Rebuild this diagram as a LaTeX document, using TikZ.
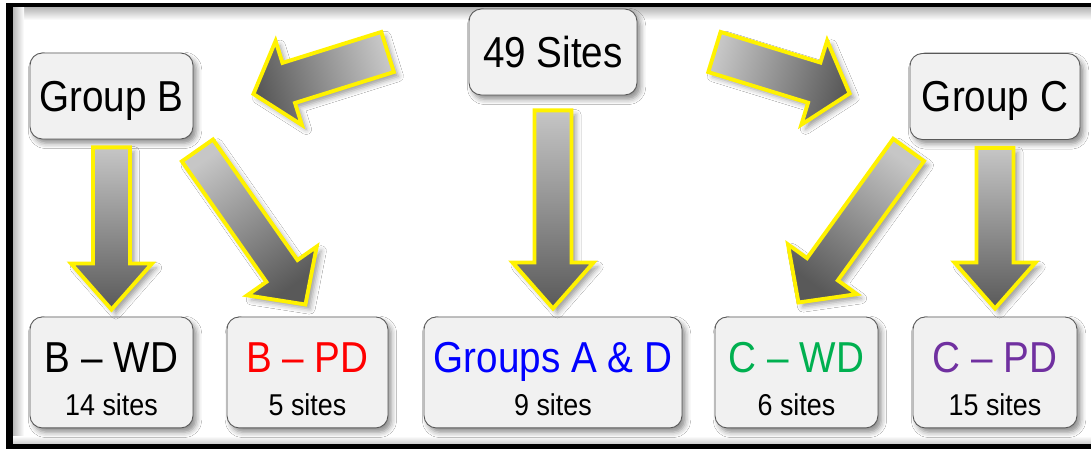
\documentclass[tikz,border=0pt]{standalone}
\usepackage{fontspec}
\setmainfont{Liberation Sans}
\usepackage{graphicx}
\usetikzlibrary{positioning,calc,shadows.blur}

\definecolor{pdred}{RGB}{255,0,0}
\definecolor{adblue}{RGB}{0,0,255}
\definecolor{wdgreen}{RGB}{0,176,80}
\definecolor{pdpurple}{RGB}{112,48,160}
\definecolor{boxgray}{RGB}{241,241,241}

% text is a bit taller than wide in the picture
\newcommand{\tall}[1]{\scalebox{1}[1.12]{#1}}
\newcommand{\ttl}[1]{\rule{0pt}{24pt}\tall{#1}}
\newcommand{\sub}[1]{{\fontsize{15.3}{18}\selectfont\tall{#1}}}
% tail, tip, half shaft, half head, head length, shading angle
\newcommand{\bigarrow}[6]{%
	\coordinate (hb) at ($(#2)!#5!(#1)$);
	\draw [bigarrow, shading angle=#6] ($(#1)!#3!90:(#2)$) -- ($(hb)!#3!90:(#2)$) -- ($(hb)!#4!90:(#2)$) -- (#2) -- ($(hb)!#4!-90:(#2)$) -- ($(hb)!#3!-90:(#2)$) -- ($(#1)!#3!-90:(#2)$) -- cycle;
}

\begin{document}
\begin{tikzpicture}[x=0.02cm, y=-0.02cm]
	%defines
	\tikzstyle{box} = [rectangle, rounded corners=7pt, minimum width=3.26cm, minimum height=1.72cm, text centered, draw=gray!70!black, line width=0.5pt, fill=boxgray, text depth=0pt, font=\fontsize{22}{24.5}\selectfont, blur shadow={shadow xshift=2pt, shadow yshift=-2.5pt, shadow blur radius=3pt, shadow opacity=45}]
	\tikzstyle{result} = [box, minimum height=2.22cm, align=center]
	\tikzstyle{bigarrow} = [draw=yellow, line width=2.2pt, top color=gray!45, bottom color=black!65, blur shadow={shadow xshift=2.5pt, shadow yshift=-2.5pt, shadow blur radius=3pt, shadow opacity=40}]
	%frame
	\useasboundingbox (0,0) rectangle (1091,449);
	\fill [white] (0,0) rectangle (1091,449);
	\fill [black] (6,3) rectangle (1100,449);
	\fill [white] (13,8) rectangle (1100,443);
	\shade [top color=gray!55, bottom color=white] (13,8) rectangle (1100,20);
	\shade [left color=gray!55, right color=white] (13,8) rectangle (24,443);
	\shade [top color=white, bottom color=gray!35] (13,436) rectangle (1100,443);
	%chart
	\node (sites) [box, minimum width=3.36cm] at (553,52) {\tall{49 Sites}};
	\node (groupB) [box] at (111.5,96) {\tall{Group B}};
	\node (groupC) [box, minimum width=3.4cm] at (995,96.5) {\tall{Group C}};
	\node (bwd) [result, below of=groupB, node distance=5.53cm] {\ttl{B \textendash{} WD}\\\sub{14 sites}};
	\node (bpd) [result, right of=bwd, node distance=3.92cm, minimum width=3.22cm] {\textcolor{pdred}{\ttl{B \textendash{} PD}}\\\sub{5 sites}};
	\node (grpAD) [result, below of=sites, node distance=6.41cm, minimum width=5.16cm] {\textcolor{adblue}{\ttl{Groups A \& D}}\\\sub{9 sites}};
	\node (cpd) [result, below of=groupC, node distance=5.52cm, minimum width=3.28cm] {\textcolor{pdpurple}{\ttl{C \textendash{} PD}}\\\sub{15 sites}};
	\node (cwd) [result, right of=grpAD, node distance=4.87cm] {\textcolor{wdgreen}{\ttl{C \textendash{} WD}}\\\sub{6 sites}};
	%arrows
	\coordinate (a1s) at ($(sites.west)+(-81,0)$);
	\coordinate (a1e) at ($(groupB.east)+(60,-2)$);
	\coordinate (a2s) at ($(sites.east)+(77,0)$);
	\coordinate (a2e) at ($(groupC.west)+(-60,-3)$);
	\coordinate (a3s) at ($(sites.south)+(0,15)$);
	\coordinate (a3e) at ($(grpAD.north)+(0,-8)$);
	\coordinate (a4s) at ($(groupB.south)+(0,8)$);
	\coordinate (a4e) at ($(bwd.north)+(0,-7)$);
	\coordinate (a5s) at ($(groupC.south)+(0,8)$);
	\coordinate (a5e) at ($(cpd.north)+(0,-8)$);
	\coordinate (a6s) at ($(groupB.south east)+(4,11)$);
	\coordinate (a6e) at ($(bpd.north)+(-2,-12)$);
	\coordinate (a7s) at ($(groupC.south west)+(-1,10)$);
	\coordinate (a7e) at ($(cwd.north)+(2,-14)$);
	\bigarrow{a1s}{a1e}{0.42cm}{0.88cm}{0.74cm}{287}
	\bigarrow{a2s}{a2e}{0.42cm}{0.88cm}{0.74cm}{74}
	\bigarrow{a3s}{a3e}{0.37cm}{0.81cm}{0.92cm}{0}
	\bigarrow{a4s}{a4e}{0.37cm}{0.81cm}{0.92cm}{0}
	\bigarrow{a5s}{a5e}{0.37cm}{0.81cm}{0.92cm}{0}
	\bigarrow{a6s}{a6e}{0.38cm}{0.85cm}{0.82cm}{35}
	\bigarrow{a7s}{a7e}{0.38cm}{0.85cm}{0.82cm}{-36}
\end{tikzpicture}
\end{document}
